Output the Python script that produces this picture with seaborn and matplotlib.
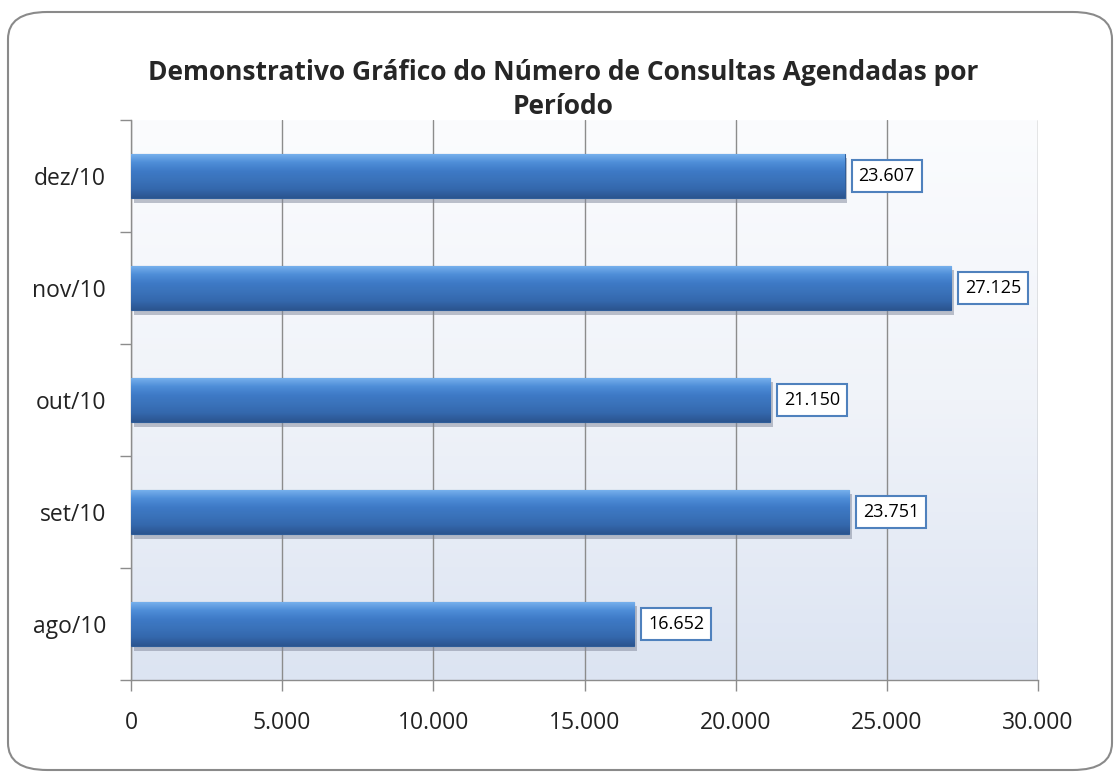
import numpy as np
import pandas as pd
import seaborn as sns
import matplotlib.pyplot as plt
from matplotlib.patches import FancyBboxPatch
from matplotlib.colors import LinearSegmentedColormap
import matplotlib.patheffects as pe

periodos = ["ago/10", "set/10", "out/10", "nov/10", "dez/10"]
consultas = [16652, 23751, 21150, 27125, 23607]
x_ticks = [0, 5000, 10000, 15000, 20000, 25000, 30000]

sns.set_theme(style="white")
plt.rcParams["font.family"] = ["Open Sans", "DejaVu Sans"]

df = pd.DataFrame({"Periodo": periodos, "Consultas": consultas})
ordem = periodos[::-1]

fig = plt.figure(figsize=(11.2, 7.73), dpi=100)
fig.patch.set_facecolor("white")

# moldura arredondada
frame = FancyBboxPatch((8 / 1120, 1 - 770 / 773), 1104 / 1120, 758 / 773,
                       boxstyle="round,pad=0,rounding_size=0.035",
                       transform=fig.transFigure, facecolor="white",
                       edgecolor="#8a8a8a", linewidth=1.5, zorder=-5)
fig.patches.append(frame)

ax = fig.add_axes([131 / 1120, 1 - 680 / 773, 907 / 1120, 560 / 773])
ax.set_facecolor("none")
ax.set_zorder(2)

# fundo em degradê (claro em cima, azulado embaixo)
grad = np.linspace(0, 1, 256).reshape(-1, 1)
bg_cmap = LinearSegmentedColormap.from_list("bg", ["#fbfcfe", "#f0f3f9", "#dce4f2"])
ax.imshow(grad, cmap=bg_cmap, aspect="auto", extent=[0, 1, 0, 1],
          transform=ax.transAxes, zorder=0)

sns.barplot(data=df, x="Consultas", y="Periodo", order=ordem, orient="h",
            color="#3b73bd", width=0.4, ax=ax, zorder=3, saturation=1)

# degradê nas barras
bar_cmap = LinearSegmentedColormap.from_list(
    "bar", ["#7ab3ee", "#4f8ed8", "#3e7ac6", "#3a72ba", "#3468ad", "#2b5590"])
bar_grad = np.linspace(0, 1, 64).reshape(-1, 1)
for p in ax.patches:
    x0, y0 = p.get_x(), p.get_y()
    w, h = p.get_width(), p.get_height()
    p.set_edgecolor("#2f5d99")
    p.set_linewidth(0.8)
    p.set_path_effects([pe.SimplePatchShadow(offset=(2, -3), shadow_rgbFace="#7f8799", alpha=0.5),
                        pe.Normal()])
    im = ax.imshow(bar_grad, cmap=bar_cmap, aspect="auto",
                   extent=[x0, x0 + w, y0 + h, y0], zorder=4)
    im.set_clip_path(p)

for p, v in zip(ax.patches, [consultas[periodos.index(o)] for o in ordem]):
    ax.annotate(f"{v:,}".replace(",", "."),
                xy=(p.get_x() + p.get_width(), p.get_y() + p.get_height() / 2),
                xytext=(10, 0), textcoords="offset points",
                ha="left", va="center", fontsize=13, color="black", zorder=6,
                bbox=dict(boxstyle="square,pad=0.38", fc="white", ec="#4f81bd", lw=1.5))

ax.set_xlim(0, 30000)
ax.set_ylim(4.5, -0.5)
ax.set_xticks(x_ticks)
ax.set_xticklabels([f"{t:,}".replace(",", ".") for t in x_ticks], fontsize=16.5, color="#222222")
ax.tick_params(axis="x", which="major", length=8, width=1, color="#8c8c8c",
               direction="out", pad=14, bottom=True)
ax.tick_params(axis="y", which="major", length=0, labelsize=16.5, labelcolor="#222222", pad=18)
ax.set_yticks(np.arange(-0.5, 5, 1), minor=True)
ax.tick_params(axis="y", which="minor", length=8, width=1, color="#8c8c8c", direction="out", left=True)
ax.xaxis.grid(True, color="#8c8c8c", linewidth=1, zorder=1)
ax.set_axisbelow(True)
for s in ["top", "right"]:
    ax.spines[s].set_visible(False)
for s in ["left", "bottom"]:
    ax.spines[s].set_color("#8c8c8c")
    ax.spines[s].set_linewidth(1)
ax.set_xlabel("")
ax.set_ylabel("")

fig.text(0.503, 1 - 72 / 773, "Demonstrativo Gráfico do Número de Consultas Agendadas por",
         ha="center", va="center", fontsize=19, fontweight="bold")
fig.text(0.503, 1 - 107 / 773, "Período", ha="center", va="center", fontsize=19, fontweight="bold")

fig.savefig("out.png", dpi=100)
